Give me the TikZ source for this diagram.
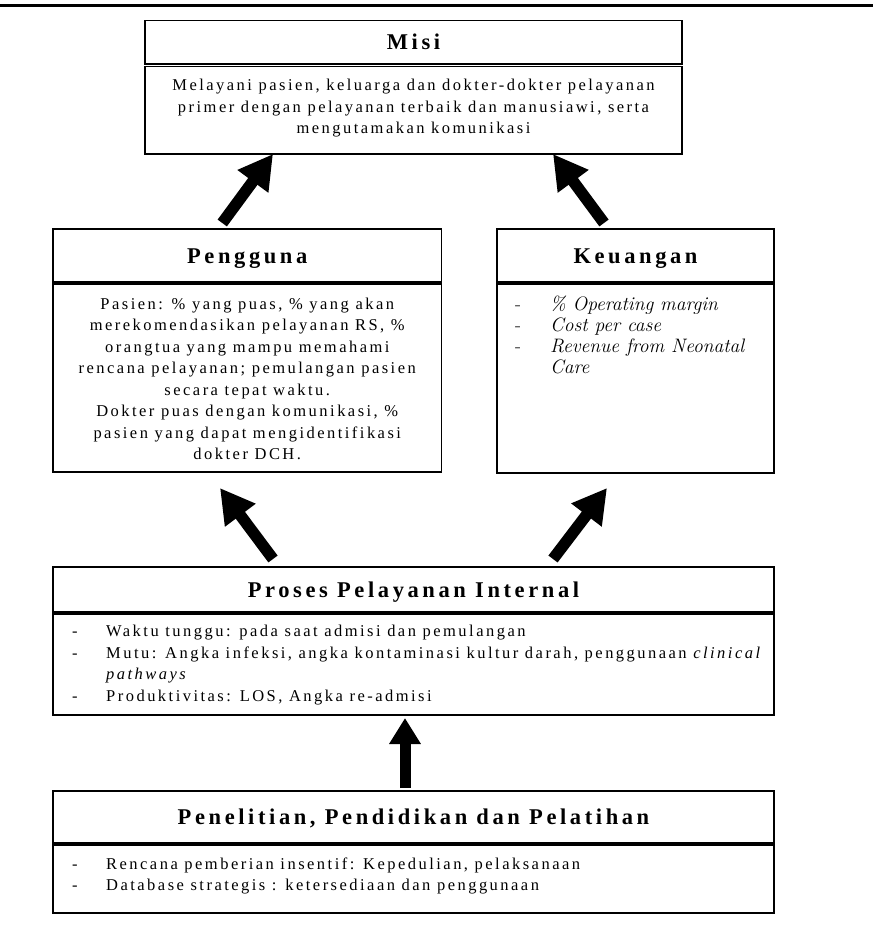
\documentclass[tikz,border=0pt]{standalone}
\usepackage{fontspec}
\newfontfamily\bodyfont[LetterSpace=15]{Liberation Serif}
\newfontfamily\headfont[LetterSpace=16]{Liberation Serif}
\usetikzlibrary{arrows.meta}
\begin{document}
\begin{tikzpicture}[x=1pt,y=-1pt,
  box/.style={draw=black, line width=1.3pt, anchor=north west, inner sep=0pt, outer sep=0pt},
  ttl/.style={box, font=\headfont\bfseries\fontsize{22.5}{26}\selectfont, text height=15pt, text depth=0pt},
  txt/.style={inner sep=0pt, font=\bodyfont\fontsize{16.5}{21.5}\selectfont},
  keutxt/.style={inner sep=0pt, font=\rmfamily\fontsize{19.5}{21}\selectfont},
  diagarrow/.style={line width=11.5pt, -{Triangle[length=34pt,width=36pt]}},
  vertarrow/.style={line width=11pt, -{Triangle[length=26pt,width=30pt]}}]
\useasboundingbox (0,0) rectangle (873,925);
\fill[white] (0,0) rectangle (873,925);
\draw[line width=3pt] (0,5.5) -- (873,5.5);

% Misi
\node[ttl, minimum width=537pt, minimum height=43.3pt] (misititle) at (145,20.7) {Misi};
\node[box, minimum width=537pt, minimum height=87.3pt] (misibody) at (145,66.7) {};
\node[txt, anchor=base] (misitxt) at (413.5,91) {\begin{tabular}[t]{@{}c@{}}Melayani pasien, keluarga dan dokter-dokter pelayanan\\ primer dengan pelayanan terbaik dan manusiawi, serta\\ mengutamakan komunikasi\end{tabular}};

% Pengguna
\node[ttl, minimum width=388.5pt, minimum height=53pt] (pengtitle) at (53,229) {Pengguna};
\node[box, minimum width=388.5pt, minimum height=188pt] (pengbody) at (53,284) {};
\node[txt, anchor=base] (pengtxt) at (247.25,309) {\begin{tabular}[t]{@{}c@{}}Pasien: \% yang puas, \% yang akan\\ merekomendasikan pelayanan RS, \%\\ orangtua yang mampu memahami\\ rencana pelayanan; pemulangan pasien\\ secara tepat waktu.\\ Dokter puas dengan komunikasi, \%\\ pasien yang dapat mengidentifikasi\\ dokter DCH.\end{tabular}};

% Keuangan
\node[ttl, minimum width=277pt, minimum height=53pt] (keutitle) at (497,229) {Keuangan};
\node[box, minimum width=277pt, minimum height=189pt] (keubody) at (497,284) {};
\node[keutxt, anchor=base west] (keutxt) at (515,310) {\begin{tabular}[t]{@{}p{35pt}@{}l@{}}- & \textit{\% Operating margin}\\ - & \textit{Cost per case}\\ - & \textit{Revenue from Neonatal}\\ & \textit{Care}\end{tabular}};

% Proses
\node[ttl, minimum width=721pt, minimum height=45pt] (prostitle) at (53,567) {Proses Pelayanan Internal};
\node[box, minimum width=721pt, minimum height=101pt] (prosbody) at (53,614) {};
\node[txt, anchor=base west] (prostxt) at (72,636.5) {\begin{tabular}[t]{@{}p{34pt}@{}l@{}}- & Waktu tunggu: pada saat admisi dan pemulangan\\ - & Mutu: Angka infeksi, angka kontaminasi kultur darah, penggunaan \textit{clinical}\\ & \textit{pathways}\\ - & Produktivitas: LOS, Angka re-admisi\end{tabular}};

% Penelitian
\node[ttl, minimum width=721pt, minimum height=52pt] (pentitle) at (53,791) {Penelitian, Pendidikan dan Pelatihan};
\node[box, minimum width=721pt, minimum height=68pt] (penbody) at (53,845) {};
\node[txt, anchor=base west] (pentxt) at (72,869) {\begin{tabular}[t]{@{}p{34pt}@{}l@{}}- & Rencana pemberian insentif: Kepedulian, pelaksanaan\\ - & Database strategis : ketersediaan dan penggunaan\end{tabular}};

% Arrows
\draw[diagarrow] ([xshift=-25pt,yshift=6pt]pengtitle.north) -- ([xshift=-140.5pt]misibody.south);
\draw[diagarrow] ([xshift=-31.5pt,yshift=6pt]keutitle.north) -- ([xshift=139.5pt]misibody.south);
\draw[diagarrow] ([xshift=-140.5pt,yshift=8pt]prostitle.north) -- ([xshift=-27.25pt,yshift=-16pt]pengbody.south);
\draw[diagarrow] ([xshift=139.5pt,yshift=8pt]prostitle.north) -- ([xshift=-28.5pt,yshift=-15pt]keubody.south);
\draw[vertarrow] ([xshift=-8.5pt,yshift=3pt]pentitle.north) -- ([xshift=-8.5pt,yshift=-3pt]prosbody.south);
\end{tikzpicture}
\end{document}
